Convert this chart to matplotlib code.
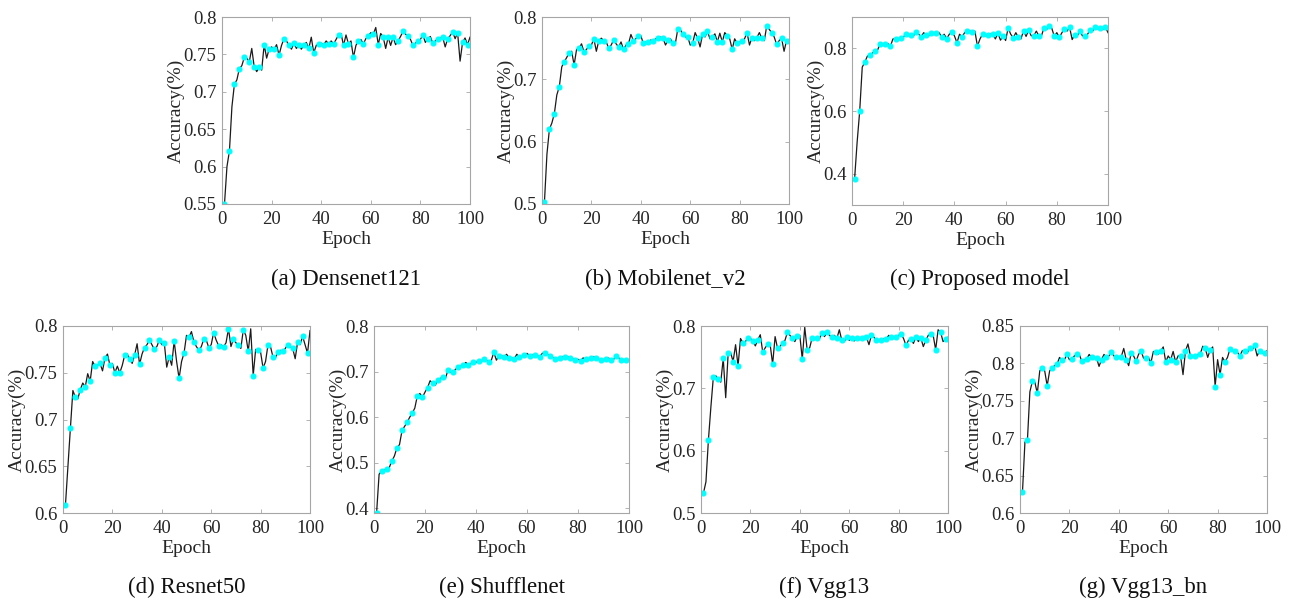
import numpy as np
import matplotlib
matplotlib.use('Agg')
import matplotlib.pyplot as plt
from matplotlib.ticker import FuncFormatter

plt.rcParams['font.family'] = ['Liberation Serif', 'DejaVu Serif']

epochs = np.arange(1, 101)

densenet121 = [0.550, 0.600, 0.621, 0.680, 0.710, 0.716, 0.731, 0.735, 0.746, 0.745,
               0.740, 0.758, 0.733, 0.727, 0.733, 0.729, 0.763, 0.745, 0.757, 0.760,
               0.757, 0.763, 0.749, 0.762, 0.771, 0.768, 0.762, 0.757, 0.765, 0.758,
               0.762, 0.757, 0.763, 0.766, 0.758, 0.773, 0.752, 0.762, 0.764, 0.765,
               0.763, 0.768, 0.764, 0.768, 0.764, 0.770, 0.776, 0.778, 0.762, 0.776,
               0.764, 0.768, 0.746, 0.762, 0.768, 0.770, 0.764, 0.771, 0.775, 0.779,
               0.777, 0.786, 0.763, 0.778, 0.773, 0.758, 0.773, 0.762, 0.773, 0.763,
               0.768, 0.774, 0.781, 0.777, 0.775, 0.770, 0.762, 0.765, 0.768, 0.770,
               0.776, 0.766, 0.771, 0.774, 0.765, 0.768, 0.771, 0.772, 0.773, 0.760,
               0.771, 0.775, 0.780, 0.771, 0.779, 0.741, 0.766, 0.772, 0.763, 0.773]

mobilenet_v2 = [0.504, 0.580, 0.620, 0.630, 0.645, 0.675, 0.688, 0.720, 0.728, 0.735,
                0.743, 0.745, 0.723, 0.748, 0.750, 0.757, 0.744, 0.748, 0.753, 0.755,
                0.765, 0.745, 0.762, 0.766, 0.762, 0.760, 0.750, 0.755, 0.763, 0.757,
                0.752, 0.760, 0.748, 0.755, 0.757, 0.772, 0.762, 0.765, 0.770, 0.770,
                0.758, 0.760, 0.760, 0.763, 0.762, 0.765, 0.766, 0.768, 0.766, 0.755,
                0.763, 0.765, 0.758, 0.758, 0.781, 0.780, 0.772, 0.768, 0.768, 0.755,
                0.758, 0.775, 0.766, 0.752, 0.772, 0.768, 0.777, 0.765, 0.768, 0.773,
                0.760, 0.774, 0.760, 0.775, 0.770, 0.765, 0.748, 0.765, 0.758, 0.760,
                0.761, 0.765, 0.775, 0.755, 0.767, 0.762, 0.767, 0.775, 0.766, 0.762,
                0.786, 0.780, 0.775, 0.768, 0.756, 0.762, 0.766, 0.745, 0.762, 0.758]

proposed = [0.382, 0.500, 0.599, 0.740, 0.756, 0.775, 0.779, 0.785, 0.792, 0.795,
            0.814, 0.810, 0.813, 0.815, 0.807, 0.830, 0.830, 0.830, 0.834, 0.835,
            0.845, 0.840, 0.844, 0.840, 0.851, 0.845, 0.837, 0.850, 0.842, 0.840,
            0.848, 0.845, 0.848, 0.850, 0.837, 0.845, 0.831, 0.845, 0.852, 0.840,
            0.818, 0.845, 0.837, 0.850, 0.855, 0.855, 0.853, 0.855, 0.807, 0.830,
            0.845, 0.840, 0.841, 0.846, 0.845, 0.830, 0.848, 0.826, 0.840, 0.825,
            0.865, 0.845, 0.834, 0.850, 0.835, 0.830, 0.856, 0.838, 0.858, 0.840,
            0.840, 0.855, 0.840, 0.840, 0.865, 0.860, 0.871, 0.865, 0.839, 0.850,
            0.835, 0.850, 0.863, 0.855, 0.867, 0.828, 0.843, 0.840, 0.855, 0.840,
            0.839, 0.845, 0.858, 0.855, 0.867, 0.862, 0.866, 0.860, 0.867, 0.850]

resnet50 = [0.609, 0.650, 0.691, 0.731, 0.724, 0.722, 0.732, 0.739, 0.735, 0.749,
            0.741, 0.762, 0.757, 0.758, 0.760, 0.752, 0.766, 0.770, 0.758, 0.760,
            0.750, 0.757, 0.750, 0.758, 0.769, 0.770, 0.765, 0.760, 0.769, 0.781,
            0.759, 0.770, 0.777, 0.780, 0.785, 0.780, 0.775, 0.778, 0.785, 0.780,
            0.782, 0.756, 0.767, 0.758, 0.784, 0.762, 0.744, 0.762, 0.771, 0.790,
            0.788, 0.794, 0.783, 0.778, 0.774, 0.778, 0.786, 0.785, 0.777, 0.780,
            0.793, 0.785, 0.779, 0.780, 0.778, 0.782, 0.797, 0.778, 0.786, 0.782,
            0.780, 0.776, 0.796, 0.790, 0.773, 0.797, 0.747, 0.775, 0.774, 0.772,
            0.755, 0.762, 0.780, 0.778, 0.767, 0.766, 0.772, 0.774, 0.773, 0.776,
            0.780, 0.778, 0.776, 0.765, 0.783, 0.780, 0.789, 0.780, 0.771, 0.795]

shufflenet = [0.389, 0.475, 0.482, 0.485, 0.486, 0.490, 0.504, 0.515, 0.533, 0.540,
              0.571, 0.580, 0.589, 0.600, 0.609, 0.620, 0.647, 0.652, 0.644, 0.655,
              0.665, 0.680, 0.675, 0.670, 0.681, 0.685, 0.688, 0.685, 0.703, 0.698,
              0.700, 0.705, 0.711, 0.712, 0.715, 0.720, 0.715, 0.718, 0.722, 0.720,
              0.724, 0.722, 0.727, 0.725, 0.722, 0.725, 0.742, 0.725, 0.735, 0.735,
              0.732, 0.738, 0.730, 0.730, 0.728, 0.738, 0.732, 0.733, 0.737, 0.740,
              0.735, 0.737, 0.736, 0.735, 0.733, 0.740, 0.741, 0.738, 0.735, 0.732,
              0.728, 0.728, 0.730, 0.733, 0.731, 0.733, 0.730, 0.728, 0.726, 0.727,
              0.724, 0.730, 0.727, 0.728, 0.730, 0.733, 0.730, 0.727, 0.726, 0.724,
              0.728, 0.730, 0.725, 0.727, 0.735, 0.730, 0.725, 0.726, 0.725, 0.724]

vgg13 = [0.532, 0.550, 0.617, 0.670, 0.718, 0.720, 0.715, 0.710, 0.748, 0.685,
         0.756, 0.757, 0.743, 0.770, 0.736, 0.780, 0.773, 0.775, 0.781, 0.780,
         0.776, 0.768, 0.778, 0.786, 0.758, 0.765, 0.771, 0.770, 0.739, 0.783,
         0.764, 0.767, 0.773, 0.777, 0.790, 0.785, 0.780, 0.775, 0.784, 0.785,
         0.747, 0.798, 0.761, 0.765, 0.781, 0.778, 0.781, 0.780, 0.789, 0.783,
         0.790, 0.785, 0.782, 0.785, 0.780, 0.794, 0.777, 0.775, 0.782, 0.777,
         0.781, 0.776, 0.780, 0.778, 0.780, 0.780, 0.782, 0.770, 0.785, 0.782,
         0.777, 0.778, 0.777, 0.780, 0.779, 0.785, 0.782, 0.783, 0.782, 0.785,
         0.787, 0.780, 0.769, 0.777, 0.779, 0.772, 0.783, 0.775, 0.781, 0.767,
         0.777, 0.785, 0.787, 0.785, 0.762, 0.794, 0.790, 0.775, 0.779, 0.782]

vgg13_bn = [0.628, 0.695, 0.697, 0.762, 0.776, 0.775, 0.760, 0.790, 0.794, 0.790,
            0.770, 0.790, 0.794, 0.797, 0.799, 0.808, 0.804, 0.805, 0.812, 0.805,
            0.806, 0.810, 0.812, 0.812, 0.803, 0.805, 0.806, 0.812, 0.808, 0.808,
            0.807, 0.796, 0.805, 0.812, 0.808, 0.810, 0.815, 0.810, 0.808, 0.808,
            0.809, 0.820, 0.805, 0.797, 0.814, 0.810, 0.803, 0.812, 0.817, 0.807,
            0.807, 0.808, 0.801, 0.816, 0.815, 0.812, 0.817, 0.822, 0.802, 0.810,
            0.805, 0.816, 0.802, 0.810, 0.810, 0.785, 0.817, 0.826, 0.810, 0.810,
            0.810, 0.812, 0.813, 0.823, 0.820, 0.808, 0.818, 0.822, 0.769, 0.805,
            0.785, 0.808, 0.802, 0.808, 0.819, 0.817, 0.816, 0.815, 0.810, 0.817,
            0.816, 0.814, 0.820, 0.818, 0.824, 0.810, 0.817, 0.814, 0.814, 0.817]

captions = ['(a) Densenet121', '(b) Mobilenet_v2', '(c) Proposed model',
            '(d) Resnet50', '(e) Shufflenet', '(f) Vgg13', '(g) Vgg13_bn']
series = [densenet121, mobilenet_v2, proposed, resnet50, shufflenet, vgg13, vgg13_bn]
ylims = [(0.55, 0.8), (0.5, 0.8), (0.3, 0.9), (0.6, 0.8), (0.39, 0.8), (0.5, 0.8), (0.6, 0.85)]
yticks = [np.arange(0.55, 0.801, 0.05), np.arange(0.5, 0.801, 0.1), [0.4, 0.6, 0.8],
          np.arange(0.6, 0.801, 0.05), np.arange(0.4, 0.801, 0.1), np.arange(0.5, 0.801, 0.1),
          np.arange(0.6, 0.851, 0.05)]

# axes boxes in pixels: left, right, top, bottom
boxes = [(222, 470, 17, 204), (542, 789, 17, 204), (852, 1108, 17, 205),
         (63, 310, 326, 513), (374, 629, 326, 513), (701, 948, 326, 513),
         (1020, 1267, 326, 513)]
cap_y = [279, 279, 279, 587, 587, 587, 587]

W, H = 1294, 601
fig = plt.figure(figsize=(W / 100, H / 100), dpi=100)
spine_col = '#a6a6a6'
text_col = '#262626'

for i in range(7):
    l, r, t, b = boxes[i]
    ax = fig.add_axes([l / W, 1 - b / H, (r - l) / W, (b - t) / H])
    y = np.array(series[i])
    ax.plot(epochs, y, color='#1a1a1a', lw=0.9)
    ax.plot(epochs[::2], y[::2], 'o', color='#00ffff', ms=3.4, mec='#00ffff')
    ax.set_xlim(0, 100)
    ax.set_ylim(*ylims[i])
    ax.set_xticks(np.arange(0, 101, 20))
    ax.set_yticks(yticks[i])
    ax.yaxis.set_major_formatter(FuncFormatter(lambda v, p: f'{round(v, 2):g}'))
    ax.tick_params(direction='in', top=True, right=True, length=3, width=0.6,
                   color=spine_col, labelsize=13.5, labelcolor=text_col)
    ax.tick_params(axis='x', pad=5)
    ax.tick_params(axis='y', pad=4)
    for s in ax.spines.values():
        s.set_color(spine_col)
        s.set_linewidth(0.8)
    ax.set_xlabel('Epoch', fontsize=14, color=text_col, labelpad=2)
    ax.set_ylabel('Accuracy(%)', fontsize=14, color=text_col, labelpad=-1)
    fig.text((l + r) / 2 / W, 1 - cap_y[i] / H, captions[i], ha='center', va='center',
             fontsize=16.5, color='#111111')

fig.savefig('out.png', dpi=100)
